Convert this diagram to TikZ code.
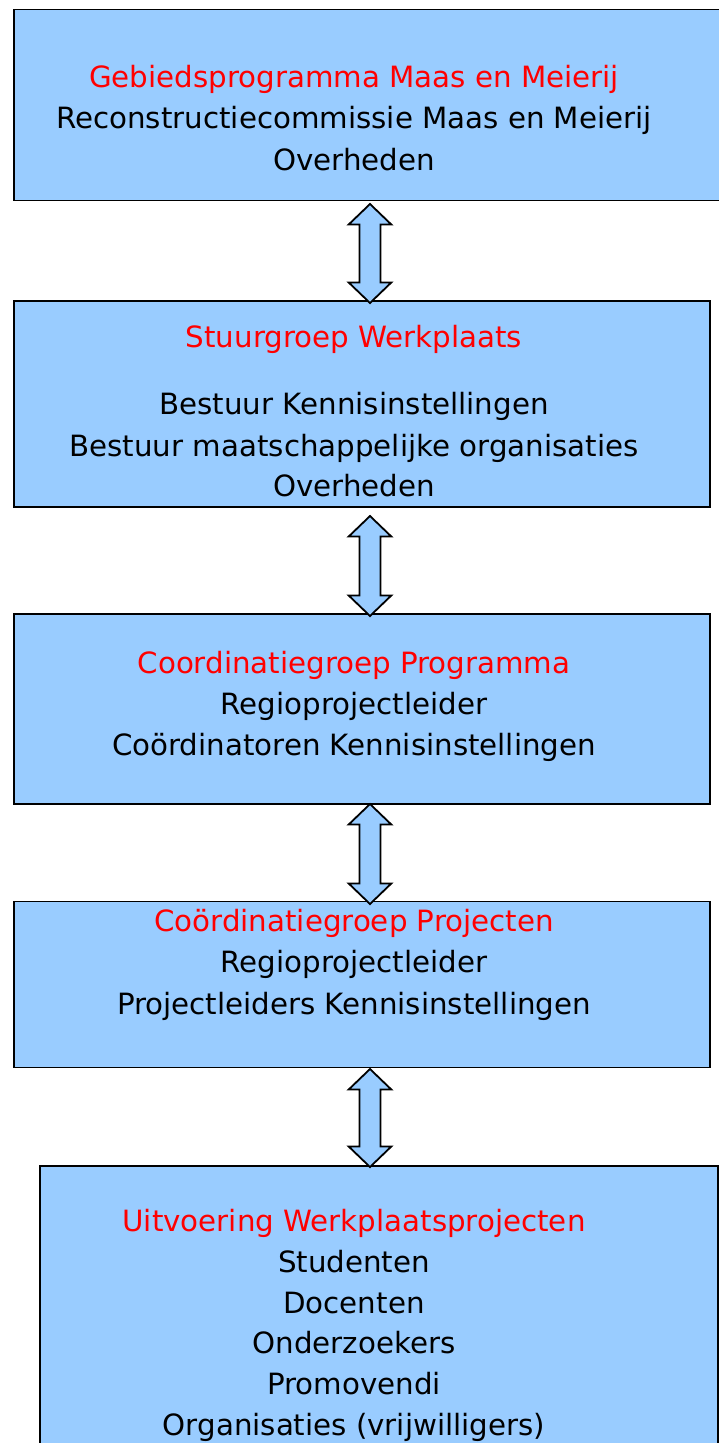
\documentclass[tikz,border=0pt]{standalone}
\usepackage{fontspec}
\setmainfont{DejaVu Sans}
\usetikzlibrary{calc}
\definecolor{boxblue}{HTML}{99CCFF}
\definecolor{hdred}{HTML}{FF0000}
\newcommand{\DArrowTK}[2]{%
  \draw[blockarrow] (#1) -- ++(-21.3,20.5) -- ++(10.8,0)
    -- ($(#2)+(-10.5,-20.5)$) -- ++(-10.8,0) -- (#2)
    -- ++(21.3,-20.5) -- ++(-10.8,0)
    -- ($(#1)+(10.5,20.5)$) -- ++(10.8,0) -- cycle;}
\begin{document}
\begin{tikzpicture}[x=1pt,y=-1pt,
  box/.style={draw=black,line width=1.6pt,fill=boxblue,anchor=north west,inner sep=0pt},
  blockarrow/.style={draw=black,line width=1.8pt,fill=boxblue,line join=miter},
  txt/.style={anchor=base,inner sep=0pt,font=\fontsize{29.3}{35}\selectfont},
  hd/.style={txt,text=hdred}]
\useasboundingbox (0,0) rectangle (718,1443);
% boxes
\node[box,minimum width=720pt,minimum height=191pt] (b1) at (13,8.5) {};
\node[box,minimum width=696pt,minimum height=206pt] (b2) at (13,300) {};
\node[box,minimum width=696pt,minimum height=190pt] (b3) at (13,613) {};
\node[box,minimum width=696pt,minimum height=166pt] (b4) at (13,900.5) {};
\node[box,minimum width=678pt,minimum height=300pt] (b5) at (39,1165) {};
% texts
\node[hd]  (t11) at (354,87)  {Gebiedsprogramma Maas en Meierij};
\node[txt] (t12) at (354,128) {Reconstructiecommissie Maas en Meierij};
\node[txt] (t13) at (354,170) {Overheden};
\node[hd]  (t21) at (354,347) {Stuurgroep Werkplaats};
\node[txt] (t22) at (354,414) {Bestuur Kennisinstellingen};
\node[txt] (t23) at (354,456) {Bestuur maatschappelijke organisaties};
\node[txt] (t24) at (354,496) {Overheden};
\node[hd]  (t31) at (354,673) {Coordinatiegroep Programma};
\node[txt] (t32) at (354,714) {Regioprojectleider};
\node[txt] (t33) at (354,755) {Coördinatoren Kennisinstellingen};
\node[hd]  (t41) at (354,931.5) {Coördinatiegroep Projecten};
\node[txt] (t42) at (354,972.5) {Regioprojectleider};
\node[txt] (t43) at (354,1014) {Projectleiders Kennisinstellingen};
\node[hd]  (t51) at (354,1231) {Uitvoering Werkplaatsprojecten};
\node[txt] (t52) at (354,1272) {Studenten};
\node[txt] (t53) at (354,1313) {Docenten};
\node[txt] (t54) at (354,1353) {Onderzoekers};
\node[txt] (t55) at (354,1394) {Promovendi};
\node[txt] (t56) at (354,1435) {Organisaties (vrijwilligers)};
% arrow end points
\coordinate (a1t) at (370,204);  \coordinate (a1b) at (370,303);
\coordinate (a2t) at (370,516);  \coordinate (a2b) at (370,616);
\coordinate (a3t) at (370,804);  \coordinate (a3b) at (370,904);
\coordinate (a4t) at (370,1069); \coordinate (a4b) at (370,1167);
\DArrowTK{a1t}{a1b}
\DArrowTK{a2t}{a2b}
\DArrowTK{a3t}{a3b}
\DArrowTK{a4t}{a4b}
\end{tikzpicture}
\end{document}
